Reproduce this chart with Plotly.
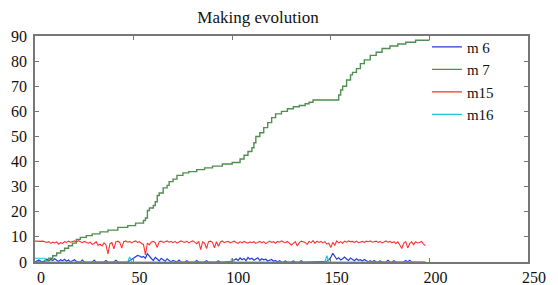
import plotly.graph_objects as go

# ---- data ----
gen = list(range(0, 199))

m7_x = [0, 5, 7, 9, 11, 13, 15, 17, 19, 21, 23, 26, 29, 33, 37, 42, 47, 51, 55, 56, 57, 58,
        60, 61, 62, 63, 65, 67, 68, 70, 72, 75, 78, 82, 86, 90, 95, 100, 104, 106, 108, 110,
        111, 112, 114, 116, 118, 120, 122, 125, 128, 131, 134, 137, 139, 141, 154, 155, 156,
        158, 160, 161, 163, 165, 167, 170, 173, 176, 180, 184, 188, 193, 200]
m7_y = [0, 0.5, 1.5, 2.5, 3.6, 4.5, 5.5, 6.5, 7.5, 9, 9.8, 10.5, 11.2, 12, 12.7, 13.8, 14.5,
        15.5, 16.5, 17.5, 20.5, 21.5, 22.5, 24, 26.5, 27.5, 29.5, 30.5, 32, 33, 34.5, 35.5, 36,
        36.8, 37.5, 38.2, 39, 39.6, 41, 42.5, 44, 45.5, 47.5, 50, 51.5, 53.5, 55.5, 57.5, 59,
        60, 61, 61.8, 62.3, 63, 63.6, 64.5, 66.5, 68.5, 70, 72.5, 74.5, 75.5, 77, 79, 80.5,
        82.3, 83.5, 85, 86, 86.8, 87.5, 88.3, 88.3]

m15 = [8.3, 8.2, 8, 8.2, 8.3, 8.1, 7.8, 8.1, 7.4, 7.9,
       7.6, 8, 7.1, 7.7, 7.4, 8.1, 7.8, 8.3, 7.9, 8.2,
       8.4, 8, 8.5, 8.1, 7.7, 8.2, 8, 7.5, 7.9, 7,
       7.4, 8.1, 6.7, 7.1, 6.4, 7.6, 6.8, 3.2, 7.3, 7.7,
       5.2, 8, 8.3, 7.8, 5.5, 8.1, 8.4, 7.9, 8.2, 7.6,
       8.1, 8.4, 7.8, 8.1, 7.4, 7, 2.8, 7.5, 6.8, 8,
       8.2, 7.6, 5.8, 8.1, 8.3, 7.8, 8.1, 8.4, 7.9, 8.2,
       7.7, 8.2, 7.5, 8, 8.4, 8.1, 7.8, 8.3, 7.6, 8.1,
       8.4, 7.9, 7.3, 8.2, 4.9, 8, 7.5, 5.3, 8.1, 8.3,
       7.8, 5.6, 8.1, 6.3, 8, 8.4, 7.7, 8.1, 8.2, 7.6,
       8, 8.3, 7.8, 7.4, 8.1, 7.6, 8.2, 7.8, 7.5, 8,
       7.7, 8.1, 7.4, 7.9, 8.2, 7.6, 8.1, 7.3, 7.9, 8.3,
       7.8, 8.1, 7.5, 8.2, 7.9, 8.4, 8, 7.7, 8.2, 7.6,
       6.8, 7.4, 8.1, 6.4, 7.7, 8.3, 8, 7.8, 7, 8.2,
       7.7, 8.5, 7.4, 8.3, 7.8, 8.2, 7.6, 8.1, 7.1, 7.5,
       5.8, 7.8, 6.7, 8.4, 7.6, 8.1, 7.5, 8.3, 7.9, 8.4,
       8.1, 8.2, 7.8, 8.3, 7.7, 8, 8.2, 7.8, 8.3, 8.1,
       8.4, 7.9, 8.1, 8.3, 7.8, 8.2, 7.6, 8.1, 8.4, 7.9,
       8.2, 7.7, 8.1, 7.4, 8, 6.8, 5.4, 7.5, 8.1, 5.6,
       7.3, 8, 6.9, 8.1, 7.6, 7.8, 8.2, 7.1, 6.6]

m6 = [0, 0.5, 0.8, 0.3, 0, 0.6, 1.2, 0.4, 1.0, 0.6,
      1.3, 0.7, 0.2, 0.9, 0.5, 1.1, 0.3, 0.8, 0, 0.5,
      0.9, 0.2, 0, 0, 0.8, 0, 0, 0, 0, 0,
      0.7, 0, 0, 0, 0, 0, 0.6, 0, 0, 0,
      0, 0.7, 0, 0, 0, 0, 0, 0, 0.5, 1.0,
      1.8, 2.2, 2.6, 2.4, 1.9, 2.2, 1.5, 3.3, 2.1, 1.4,
      0.6, 1.8, 1.2, 0.4, 1.5, 0.8, 0.3, 1.3, 0.7, 0,
      0.6, 0.2, 0, 0.8, 0, 0, 0, 0.5, 0, 0,
      0, 0, 0.6, 0, 0, 0, 0, 0.5, 0, 0,
      0, 0, 0, 0.4, 0, 0, 0, 0, 0, 0,
      0.3, 0.8, 1.3, 0.6, 1.6, 0.9, 1.4, 0.5, 1.8, 1.1,
      1.5, 0.7, 1.2, 1.7, 0.6, 1.3, 0.9, 1.1, 0.4, 0.8,
      1.0, 0.3, 0.6, 0, 0.5, 0, 0, 0.4, 0, 0,
      0, 0.4, 0, 0, 0, 0.5, 0, 0, 0, 0,
      0, 0, 0, 0, 0, 0, 0, 0, 0.3, 0.9,
      1.8, 3.5, 2.2, 1.1, 1.7, 0.8, 1.3, 2.0, 1.2, 0.6,
      1.6, 1.1, 0.5, 1.3, 0.7, 0.9, 0.4, 1.0, 0.3, 0,
      0.5, 0, 0.6, 0, 0, 0.4, 0, 0, 0, 0.7,
      0, 0, 0.5, 0, 0, 0, 0, 0, 0.6, 0,
      0.7, 0, 0, 0, 0, 0, 0, 0, 0]

m16_x = [0, 5, 6, 47, 48, 49, 99, 100, 101, 147, 148, 149, 198]
m16_y = [1.5, 1.5, 0, 0, 2, 0, 0, 1.5, 0, 0, 2.5, 0, 0]

x_ticks = [0, 50, 100, 150, 200, 250]
y_ticks = [0, 10, 20, 30, 40, 50, 60, 70, 80, 90]

FONT = "Liberation Serif"

# the page body has an 8px default margin, so the figure is sized to fill the rest
W, H = 550, 277

fig = go.Figure()
fig.add_trace(go.Scatter(x=gen, y=m6, mode="lines", name="m 6",
                         line=dict(color="#1f3fe0", width=1.2)))
fig.add_trace(go.Scatter(x=m7_x, y=m7_y, mode="lines", name="m 7", line_shape="hv",
                         line=dict(color="#4f8f4f", width=1.4)))
fig.add_trace(go.Scatter(x=gen, y=m15, mode="lines", name="m15",
                         line=dict(color="#ff3030", width=1.1)))
fig.add_trace(go.Scatter(x=m16_x, y=m16_y, mode="lines", name="m16",
                         line=dict(color="#20c8c8", width=1.2)))

axis_common = dict(showline=True, linecolor="#777777", linewidth=1.5, mirror="ticks",
                   ticks="inside", ticklen=4, tickcolor="#777777", tickwidth=1.2,
                   showgrid=False, zeroline=False, automargin=False,
                   tickfont=dict(family=FONT, size=16, color="#111111"))

fig.update_layout(
    template="none",
    width=W, height=H,
    margin=dict(l=27, r=30, t=28, b=23, autoexpand=False),
    paper_bgcolor="white", plot_bgcolor="white",
    title=dict(text="Making evolution", x=250 / W, xanchor="center",
               xref="container", y=1 - 9 / H, yref="container", yanchor="middle",
               font=dict(family=FONT, size=17, color="#111111")),
    xaxis=dict(range=[0, 250], tickvals=x_ticks, ticklabelshift=6, **axis_common),
    yaxis=dict(range=[0, 90], tickvals=y_ticks, ticklabelstandoff=3, **axis_common),
    legend=dict(x=0.795, y=1.024, xanchor="left", yanchor="top",
                bgcolor="rgba(0,0,0,0)",
                borderwidth=0, font=dict(family=FONT, size=15, color="#111111"),
                tracegroupgap=0, itemwidth=30),
    showlegend=True,
)

fig.write_html("out.html")
